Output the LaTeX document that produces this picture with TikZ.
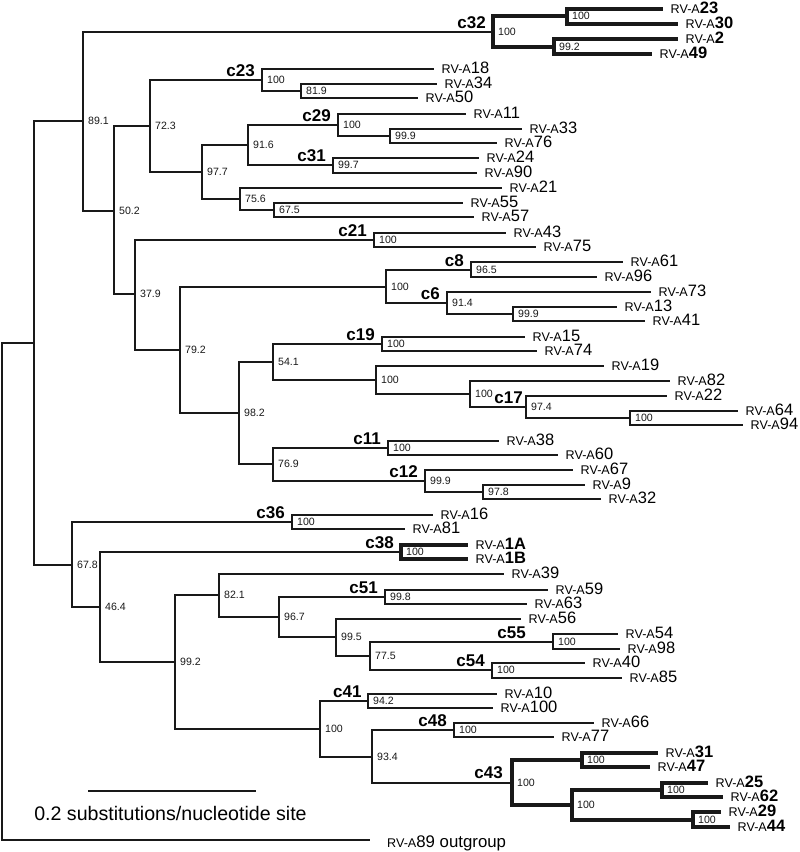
\documentclass[tikz,border=0pt]{standalone}
\usepackage{fontspec}
\setmainfont{Liberation Sans}
\definecolor{ink}{RGB}{25,25,25}
\newcommand\myrv[1]{{\fontsize{12.6}{14}\selectfont RV-A}#1}
\begin{document}
\begin{tikzpicture}[x=1pt,y=-1pt,
  br/.style={line width=1.3pt, draw=ink},
  thk/.style={line width=3.6pt, draw=ink},
  bs/.style={anchor=west, inner sep=0pt, xshift=5pt, text=ink, font=\fontsize{10.6}{12}\selectfont},
  cl/.style={anchor=base east, inner sep=0pt, xshift=-7pt, yshift=4pt, text=black, font=\bfseries\fontsize{17}{19}\selectfont},
  lf/.style={anchor=base west, inner sep=0pt, xshift=7.5pt, yshift=-4.5pt, text=black, font=\fontsize{16.5}{18}\selectfont}]
\useasboundingbox (0,0) rectangle (800,852);
% ---------- internal nodes ----------
\coordinate (R) at (2,591);
\coordinate (A) at (34,343);
\coordinate (OUT) at (370,840);
\coordinate (B) at (83,121);
\coordinate (C32) at (493,32);
\coordinate (C32a) at (567,16);
\coordinate (C32b) at (554,47);
\coordinate (D) at (114,211);
\coordinate (E) at (150,126);
\coordinate (C23) at (262,80);
\coordinate (F) at (301,91);
\coordinate (G) at (202,172);
\coordinate (H) at (248,145);
\coordinate (C29) at (338,125);
\coordinate (I) at (390,136);
\coordinate (C31) at (333,165);
\coordinate (J) at (240,199);
\coordinate (K) at (274,210);
\coordinate (M) at (135,294);
\coordinate (C21) at (374,240);
\coordinate (N) at (180,350);
\coordinate (O) at (386,287);
\coordinate (C8) at (471,270);
\coordinate (C6) at (447,303);
\coordinate (P) at (513,314);
\coordinate (Q) at (239,413);
\coordinate (S) at (273,362);
\coordinate (C19) at (382,344);
\coordinate (T) at (376,380);
\coordinate (U) at (470,394);
\coordinate (C17) at (526,407);
\coordinate (V) at (630,418);
\coordinate (W) at (273,464);
\coordinate (C11) at (388,448);
\coordinate (C12) at (425,481);
\coordinate (X) at (483,492);
\coordinate (Y) at (72,565);
\coordinate (C36) at (292,522);
\coordinate (Z) at (100,607);
\coordinate (C38) at (401,552);
\coordinate (AA) at (175,662);
\coordinate (AB) at (219,595);
\coordinate (AC) at (279,617);
\coordinate (C51) at (385,597);
\coordinate (AD) at (336,637);
\coordinate (AE) at (370,656);
\coordinate (C55) at (553,642);
\coordinate (C54) at (492,670);
\coordinate (C41) at (320,729);
\coordinate (AF) at (368,701);
\coordinate (AG) at (372,757);
\coordinate (C48) at (454,730);
\coordinate (C43) at (512,783);
\coordinate (AH) at (582,760);
\coordinate (AI) at (572,805);
\coordinate (AJ) at (662,790);
\coordinate (AK) at (693,820);
% ---------- leaves (branch ends) ----------
\coordinate (L23) at (663,9);   \coordinate (L30) at (678,24);
\coordinate (L2) at (678,39);   \coordinate (L49) at (652,54);
\coordinate (L18) at (434,69);  \coordinate (L34) at (437,84);  \coordinate (L50) at (418,98);
\coordinate (L11) at (466,114); \coordinate (L33) at (522,129); \coordinate (L76) at (497,143);
\coordinate (L24) at (479,158); \coordinate (L90) at (477,173);
\coordinate (L21) at (502,188); \coordinate (L55) at (463,203); \coordinate (L57) at (474,217);
\coordinate (L43) at (506,233); \coordinate (L75) at (536,247);
\coordinate (L61) at (623,262); \coordinate (L96) at (597,277);
\coordinate (L73) at (651,292); \coordinate (L13) at (617,307); \coordinate (L41) at (645,321);
\coordinate (L15) at (525,337); \coordinate (L74) at (537,351);
\coordinate (L19) at (604,366); \coordinate (L82) at (670,381); \coordinate (L22) at (667,396);
\coordinate (L64) at (738,411); \coordinate (L94) at (743,425);
\coordinate (L38) at (499,441); \coordinate (L60) at (558,455);
\coordinate (L67) at (573,470); \coordinate (L9) at (585,485);  \coordinate (L32) at (601,499);
\coordinate (L16) at (433,515); \coordinate (L81) at (405,529);
\coordinate (L1A) at (468,545); \coordinate (L1B) at (468,559);
\coordinate (L39) at (504,574); \coordinate (L59) at (548,590); \coordinate (L63) at (527,604);
\coordinate (L56) at (521,619); \coordinate (L54) at (618,634); \coordinate (L98) at (620,649);
\coordinate (L40) at (585,663); \coordinate (L85) at (622,678);
\coordinate (L10) at (497,694); \coordinate (L100) at (493,708);
\coordinate (L66) at (594,723); \coordinate (L77) at (554,737);
\coordinate (L31) at (658,753); \coordinate (L47) at (650,767);
\coordinate (L25) at (708,783); \coordinate (L62) at (723,797);
\coordinate (L29) at (721,812); \coordinate (L44) at (730,827);
% ---------- thin branches ----------
\foreach \p/\c in {R/A, R/OUT, A/B, A/Y, B/C32, B/D, D/E, D/M, E/C23, E/G,
  C23/L18, C23/F, F/L34, F/L50, G/H, G/J, H/C29, H/C31,
  C29/L11, C29/I, I/L33, I/L76, C31/L24, C31/L90, J/L21, J/K, K/L55, K/L57,
  M/C21, M/N, C21/L43, C21/L75, N/O, N/Q, O/C8, O/C6, C8/L61, C8/L96,
  C6/L73, C6/P, P/L13, P/L41, Q/S, Q/W, S/C19, S/T, C19/L15, C19/L74,
  T/L19, T/U, U/L82, U/C17, C17/L22, C17/V, V/L64, V/L94,
  W/C11, W/C12, C11/L38, C11/L60, C12/L67, C12/X, X/L9, X/L32,
  Y/C36, Y/Z, C36/L16, C36/L81, Z/C38, Z/AA, AA/AB, AA/C41,
  AB/L39, AB/AC, AC/C51, AC/AD, C51/L59, C51/L63, AD/L56, AD/AE,
  AE/C55, AE/C54, C55/L54, C55/L98, C54/L40, C54/L85,
  C41/AF, C41/AG, AF/L10, AF/L100, AG/C48, AG/C43, C48/L66, C48/L77}
  \draw[br] (\p) |- (\c);
% ---------- thick branches ----------
\foreach \p/\c in {C32/C32a, C32/C32b, C32a/L23, C32a/L30, C32b/L2, C32b/L49,
  C38/L1A, C38/L1B,
  C43/AH, C43/AI, AH/L31, AH/L47, AI/AJ, AI/AK, AJ/L25, AJ/L62, AK/L29, AK/L44}
  \draw[thk] (\p) |- (\c);
% ---------- bootstrap values ----------
\foreach \n/\t in {B/89.1, C32/100, C32a/100, C32b/99.2, D/50.2, E/72.3, C23/100, F/81.9,
  G/97.7, H/91.6, C29/100, I/99.9, C31/99.7, J/75.6, K/67.5, M/37.9, C21/100, N/79.2,
  O/100, C8/96.5, C6/91.4, P/99.9, Q/98.2, S/54.1, C19/100, T/100, U/100, C17/97.4,
  V/100, W/76.9, C11/100, C12/99.9, X/97.8, Y/67.8, C36/100, Z/46.4, C38/100,
  AA/99.2, AB/82.1, AC/96.7, C51/99.8, AD/99.5, AE/77.5, C55/100, C54/100,
  C41/100, AF/94.2, AG/93.4, C48/100, C43/100, AH/100, AI/100, AJ/100, AK/100}
  \node[bs] (b\n) at (\n) {\t};
% ---------- clade labels ----------
\foreach \n/\t in {C32/c32, C23/c23, C29/c29, C31/c31, C21/c21, C8/c8, C6/c6, C19/c19,
  C11/c11, C12/c12, C36/c36, C38/c38, C51/c51, C54/c54, C48/c48}
  \node[cl] (k\n) at (\n) {\t};
\node[cl, xshift=4pt] (kC17) at (C17) {c17};
\node[cl, xshift=-2pt, yshift=1pt] (kC43) at (C43) {c43};
\node[anchor=base east, inner sep=0pt, font=\bfseries\fontsize{17}{19}\selectfont] (kC55) at (526,638) {c55};
\node[anchor=base west, inner sep=0pt, font=\bfseries\fontsize{17}{19}\selectfont] (kC41) at (333,697) {c41};
% ---------- leaf labels ----------
\foreach \n/\t in {L18/18, L34/34, L50/50, L11/11, L33/33, L76/76, L24/24, L90/90,
  L21/21, L55/55, L57/57, L43/43, L75/75, L61/61, L96/96, L73/73, L13/13, L41/41,
  L15/15, L74/74, L19/19, L82/82, L22/22, L64/64, L94/94, L38/38, L60/60,
  L67/67, L9/9, L32/32, L16/16, L81/81, L39/39, L59/59, L63/63, L56/56,
  L54/54, L98/98, L40/40, L85/85, L10/10, L100/100, L66/66, L77/77}
  \node[lf] (t\n) at (\n) {\myrv{\t}};
\foreach \n/\t in {L23/23, L30/30, L2/2, L49/49, L1A/1A, L1B/1B, L31/31, L47/47,
  L25/25, L62/62, L29/29, L44/44}
  \node[lf] (t\n) at (\n) {\myrv{\textbf{\t}}};
\node[anchor=base west, inner sep=0pt, font=\fontsize{16.8}{19}\selectfont] (tOUT) at (387,847) {\myrv{89 outgroup}};
% ---------- scale bar ----------
\coordinate (sb1) at (88,791);
\coordinate (sb2) at (256,791);
\draw[br] (sb1) -- (sb2);
\node[anchor=base, inner sep=0pt, font=\fontsize{19.6}{22}\selectfont] (sbl) at (170.5,820) {0.2 substitutions/nucleotide site};
\end{tikzpicture}
\end{document}
